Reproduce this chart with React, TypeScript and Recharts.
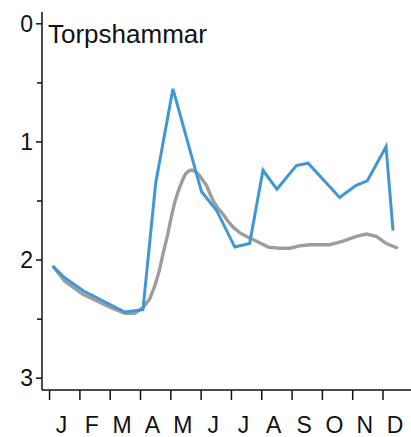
import React from "react";
import { LineChart, Line, XAxis, YAxis } from "recharts";

const title = "Torpshammar";
const monthLabels = ["J", "F", "M", "A", "M", "J", "J", "A", "S", "O", "N", "D"];
const monthTicks = [0, 1, 2, 3, 4, 5, 6, 7, 8, 9, 10, 11];
const yTicks = [0, 0.5, 1, 1.5, 2, 2.5, 3];

// observed series: month position (0 = start of Jan) and value
const obsMonth = [0.1, 0.5, 1.11, 2.48, 3.08, 3.5, 4.07, 5.01, 5.51, 6.11, 6.6, 7.04, 7.5, 8.14, 8.53, 9.57, 10.1, 10.48, 11.1, 11.33];
const obsValue = [2.05, 2.15, 2.26, 2.44, 2.42, 1.35, 0.55, 1.42, 1.58, 1.89, 1.86, 1.24, 1.4, 1.2, 1.18, 1.47, 1.37, 1.33, 1.04, 1.75];

// climatology series
const climMonth = [0.11, 0.5, 1.1, 1.99, 2.48, 2.81, 3.09, 3.3, 3.47, 3.62, 3.75, 3.9, 4.02, 4.13, 4.24, 4.33, 4.41, 4.49, 4.57, 4.65, 4.73, 4.85, 4.96, 5.07, 5.18, 5.28, 5.38, 5.55, 5.72, 5.88, 6.05, 6.28, 6.5, 6.83, 7.21, 7.59, 7.92, 8.25, 8.58, 9.24, 9.68, 10.12, 10.45, 10.78, 11.11, 11.49];
const climValue = [2.05, 2.18, 2.29, 2.4, 2.45, 2.45, 2.4, 2.33, 2.22, 2.09, 1.94, 1.78, 1.63, 1.51, 1.42, 1.36, 1.31, 1.27, 1.25, 1.24, 1.24, 1.26, 1.29, 1.33, 1.37, 1.43, 1.49, 1.56, 1.61, 1.67, 1.72, 1.77, 1.8, 1.84, 1.89, 1.9, 1.9, 1.88, 1.87, 1.87, 1.84, 1.8, 1.78, 1.8, 1.86, 1.9];

const obsData = obsMonth.map((m, i) => ({ m, v: obsValue[i] }));
const climData = climMonth.map((m, i) => ({ m, v: climValue[i] }));

const FONT = "'Liberation Sans', Arial, sans-serif";
const INK = "#111";

const YTick = (props: any) => {
  const { x, y, payload } = props;
  const major = Number.isInteger(payload.value);
  return (
    <g>
      <line x1={x - (major ? 6 : 5)} x2={x} y1={y} y2={y} stroke={INK} strokeWidth={1.5} />
      {major && (
        <text x={x - 9} y={y} dy="0.36em" textAnchor="end" fontSize={23} fontFamily={FONT} fill={INK}>
          {payload.value}
        </text>
      )}
    </g>
  );
};

const XTick = (props: any) => {
  const { x, y, payload } = props;
  return (
    <g>
      <line x1={x} x2={x} y1={y} y2={y + 10} stroke={INK} strokeWidth={1.5} />
      <text x={x + 12} y={y + 43} textAnchor="middle" fontSize={23} fontFamily={FONT} fill={INK}>
        {monthLabels[payload.value]}
      </text>
    </g>
  );
};

export default function App() {
  return (
    <div style={{ position: "absolute", left: 0, top: 0, width: 411, height: 437, overflow: "hidden", background: "#fff" }}>
      <LineChart width={430} height={437} margin={{ top: 12, right: 0, bottom: 0, left: 0 }}>
        <XAxis
          xAxisId="main"
          type="number"
          dataKey="m"
          domain={[-0.25, 12.55]}
          allowDataOverflow
          ticks={monthTicks}
          interval={0}
          tickSize={0}
          tickMargin={0}
          tickLine={false}
          tick={<XTick />}
          height={47}
          axisLine={{ stroke: INK, strokeWidth: 1.5 }}
        />
        <XAxis
          xAxisId="top"
          orientation="top"
          type="number"
          dataKey="m"
          domain={[-0.25, 12.55]}
          allowDataOverflow
          height={0}
          tick={false}
          tickLine={false}
          axisLine={{ stroke: INK, strokeWidth: 1.5 }}
        />
        <YAxis
          type="number"
          reversed
          domain={[-0.1, 3.1]}
          allowDataOverflow
          ticks={yTicks}
          interval={0}
          width={42}
          tickSize={0}
          tickMargin={0}
          tickLine={false}
          tick={<YTick />}
          axisLine={{ stroke: INK, strokeWidth: 1.5 }}
        />
        <Line
          xAxisId="main"
          data={climData}
          dataKey="v"
          type="linear"
          stroke="#9d9d9d"
          strokeWidth={3.4}
          dot={false}
          isAnimationActive={false}
        />
        <Line
          xAxisId="main"
          data={obsData}
          dataKey="v"
          type="linear"
          stroke="#4197d3"
          strokeWidth={3}
          dot={false}
          isAnimationActive={false}
        />
      </LineChart>
      <div
        style={{
          position: "absolute",
          left: 48,
          top: 21,
          fontFamily: FONT,
          fontSize: 26,
          lineHeight: "26px",
          color: INK,
          whiteSpace: "nowrap",
        }}
      >
        {title}
      </div>
    </div>
  );
}
